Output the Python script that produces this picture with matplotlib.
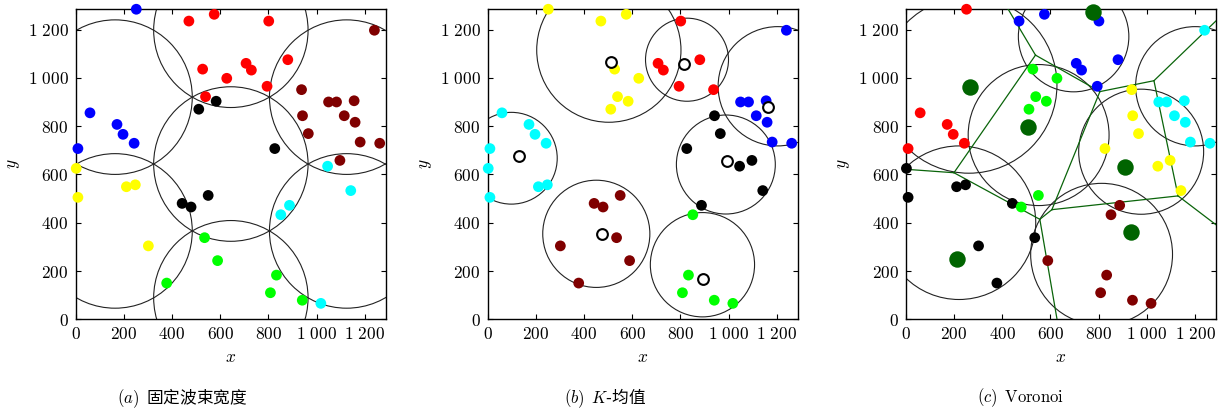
import matplotlib
matplotlib.use("Agg")
import matplotlib.pyplot as plt
from matplotlib.patches import Circle
from matplotlib.ticker import FuncFormatter, MultipleLocator

# user positions (same 50 points in all three panels)
pts_x = [252, 60, 172, 197, 243, 10,
         470, 575, 527, 627, 539, 801, 880, 707, 729, 794,
         583, 511, 826, 442, 479, 550,
         1239, 937, 1049, 1082, 1155, 941, 1114, 1159, 965, 1180, 1261, 1096,
         3, 211, 248, 10, 302,
         535, 589, 378, 833, 808, 940,
         1045, 1141, 887, 851, 1017]
pts_y = [1284, 855, 807, 766, 729, 707,
         1235, 1263, 1036, 998, 922, 1235, 1075, 1060, 1032, 965,
         903, 870, 707, 480, 465, 513,
         1197, 951, 900, 900, 905, 843, 843, 816, 769, 734, 729, 658,
         625, 549, 557, 505, 304,
         338, 243, 150, 183, 110, 79,
         634, 533, 472, 433, 66]

# cluster colour of every point in each panel
lab_a = ["b", "b", "b", "b", "b", "b",
         "r", "r", "r", "r", "r", "r", "r", "r", "r", "r",
         "k", "k", "k", "k", "k", "k",
         "m", "m", "m", "m", "m", "m", "m", "m", "m", "m", "m", "m",
         "y", "y", "y", "y", "y",
         "g", "g", "g", "g", "g", "g",
         "c", "c", "c", "c", "c"]
lab_b = ["y", "c", "c", "c", "c", "c",
         "y", "y", "y", "y", "y", "r", "r", "r", "r", "r",
         "y", "y", "k", "m", "m", "m",
         "b", "r", "b", "b", "b", "k", "b", "b", "k", "b", "b", "k",
         "c", "c", "c", "c", "m",
         "m", "m", "m", "g", "g", "g",
         "k", "k", "k", "g", "g"]
lab_c = ["r", "r", "r", "r", "r", "r",
         "b", "b", "g", "g", "g", "b", "b", "b", "b", "b",
         "g", "g", "y", "k", "g", "g",
         "c", "y", "c", "c", "c", "y", "c", "c", "y", "c", "c", "y",
         "k", "k", "k", "k", "k",
         "k", "m", "k", "m", "m", "m",
         "y", "y", "m", "m", "m"]

colors = {"r": "#ff0000", "b": "#0000ff", "k": "#000000", "m": "#800000",
          "y": "#ffff00", "g": "#00ff00", "c": "#00ffff"}

# (a) fixed beams
beam_x = [164, 644, 1124, 644, 164, 644, 1124]
beam_y = [920, 1197, 920, 643, 366, 89, 366]
beam_r = 320

# (b) k-means centroids and circles
cent_x = [510, 130, 813, 1161, 991, 473, 895]
cent_y = [1064, 677, 1056, 878, 657, 353, 168]
kc_x = [503, 99, 827, 1203, 988, 451, 891]
kc_y = [1115, 667, 1075, 965, 641, 354, 226]
kc_r = [299, 190, 172, 247, 205, 222, 216]

# (c) voronoi sites, circles and edges
site_x = [267, 505, 777, 911, 214, 933]
site_y = [961, 795, 1274, 632, 251, 363]
vc_x = [262, 696, 1200, 551, 221, 976, 812]
vc_y = [970, 1171, 965, 763, 400, 694, 269]
vc_r = [365, 229, 247, 292, 318, 259, 294]
vor_x = [538, 805, 1029, 1129, 606, 556, 200, 420, 1300, 1300, 629, -10]
vor_y = [1094, 943, 988, 511, 454, 414, 607, 1292, 1249, 381, -10, 622]
vor_edges = [(0, 1), (1, 2), (2, 3), (1, 4), (3, 4), (4, 5), (5, 6), (0, 6),
             (0, 7), (2, 8), (3, 9), (5, 10), (6, 11)]

plt.rcParams["mathtext.fontset"] = "cm"
plt.rcParams["font.family"] = ["DejaVu Serif"]

LIM = 1285


def fmt(v, pos):
    s = f"{int(v):,}".replace(",", r"\ ")
    return "$" + s + "$"


def setup(ax):
    ax.set_xlim(0, LIM)
    ax.set_ylim(0, LIM)
    ax.xaxis.set_major_locator(MultipleLocator(200))
    ax.yaxis.set_major_locator(MultipleLocator(200))
    ax.xaxis.set_major_formatter(FuncFormatter(fmt))
    ax.yaxis.set_major_formatter(FuncFormatter(fmt))
    ax.tick_params(direction="in", top=True, right=True, length=3.5,
                   width=0.8, labelsize=12.5, pad=5)
    ax.set_xlabel("$x$", fontsize=12.5, labelpad=4)
    ax.set_ylabel("$y$", fontsize=12.5, labelpad=4)
    for s in ax.spines.values():
        s.set_linewidth(1.0)


def points(ax, labs):
    ax.scatter(pts_x, pts_y, s=60, c=[colors[l] for l in labs],
               zorder=4, clip_on=False, linewidths=0)


def circles(ax, xs, ys, rs):
    for x, y, r in zip(xs, ys, rs):
        ax.add_patch(Circle((x, y), r, fill=False, ec="#222222", lw=0.8, zorder=2))


fig = plt.figure(figsize=(12.23, 4.11), dpi=100)
W, H = 1223, 411
lefts = [75.5, 487.5, 905.7]
axes = [fig.add_axes([l / W, (H - 319.3) / H, 310 / W, 310.3 / H]) for l in lefts]

ax = axes[0]
setup(ax)
circles(ax, beam_x, beam_y, [beam_r] * len(beam_x))
points(ax, lab_a)

ax = axes[1]
setup(ax)
circles(ax, kc_x, kc_y, kc_r)
points(ax, lab_b)
ax.scatter(cent_x, cent_y, s=60, facecolors="white", edgecolors="black",
           linewidths=1.5, zorder=5)

ax = axes[2]
setup(ax)
circles(ax, vc_x, vc_y, vc_r)
for i, j in vor_edges:
    ax.plot([vor_x[i], vor_x[j]], [vor_y[i], vor_y[j]], color="#0a640a", lw=0.9, zorder=3)
points(ax, lab_c)
ax.scatter(site_x, site_y, s=140, c="#006400", zorder=5, clip_on=False, linewidths=0)

cap_y = 1 - 398 / H
cjk = ["Noto Sans CJK SC", "DejaVu Sans"]
fig.text(117 / W, cap_y, r"$(a)$  固定波束宽度", family=cjk, fontsize=12, va="center")
fig.text(564 / W, cap_y, r"$(b)$  $K$-均值", family=cjk, fontsize=12, va="center")
fig.text(977 / W, cap_y, r"$(c)$  $\mathrm{Voronoi}$", family=cjk, fontsize=12, va="center")

fig.savefig("out.png", dpi=100)
